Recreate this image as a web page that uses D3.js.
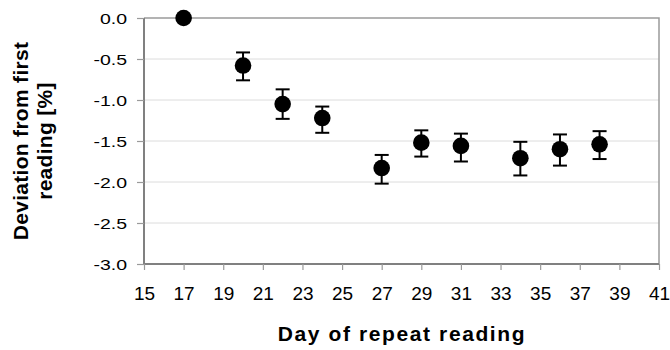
<!DOCTYPE html>
<html><head><meta charset="utf-8">
<script src="https://cdn.jsdelivr.net/npm/d3@7"></script>
<style>body{margin:0;background:#fff}svg{display:block}text{font-family:"Liberation Sans",Arial,sans-serif}</style>
</head><body>
<svg id="c" width="670" height="350"></svg>
<script>
const days = [17, 20, 22, 24, 27, 29, 31, 34, 36, 38];
const deviation = [0.0, -0.58, -1.05, -1.22, -1.83, -1.52, -1.56, -1.71, -1.60, -1.54];
const errUpper = [0.0, -0.42, -0.87, -1.08, -1.67, -1.37, -1.41, -1.51, -1.42, -1.38];
const errLower = [0.0, -0.76, -1.23, -1.40, -2.02, -1.69, -1.75, -1.92, -1.80, -1.72];
const xTicks = [15, 17, 19, 21, 23, 25, 27, 29, 31, 33, 35, 37, 39, 41];
const yTicks = [0.0, -0.5, -1.0, -1.5, -2.0, -2.5, -3.0];
const xTitle = "Day of repeat reading";
const yTitle = ["Deviation from first", "reading [%]"];

const svg = d3.select("#c");
const L = 144, R = 659, T = 18, B = 264;
const x = d3.scaleLinear().domain([15, 41]).range([L, R]);
const y = d3.scaleLinear().domain([-3, 0]).range([B, T]);

// gridlines
svg.append("g").selectAll("line").data(yTicks.filter(v => v !== 0 && v !== -3)).join("line")
  .attr("x1", L).attr("x2", R).attr("y1", d => y(d)).attr("y2", d => y(d))
  .attr("stroke", "#dcdcdc").attr("stroke-width", 1);

// frame top/right
svg.append("path").attr("d", `M${L},${T}H${R}V${B}`).attr("fill", "none")
  .attr("stroke", "#9a9a9a").attr("stroke-width", 1.5);

// axes
const fmtY = d => d.toFixed(1);
const yAxis = d3.axisLeft(y).tickValues(yTicks).tickFormat(fmtY).tickSize(7).tickPadding(10);
const gy = svg.append("g").attr("transform", `translate(${L},0)`).call(yAxis);
const xAxis = d3.axisBottom(x).tickValues(xTicks).tickFormat(d => String(d)).tickSize(6).tickPadding(17);
const gx = svg.append("g").attr("transform", `translate(0,${B})`).call(xAxis);
[gx, gy].forEach(g => {
  g.select(".domain").attr("stroke", "#808080").attr("stroke-width", 2);
  g.selectAll(".tick line").attr("stroke", "#9a9a9a").attr("stroke-width", 1.2);
  g.selectAll(".tick text").attr("font-size", 19).attr("fill", "#000")
    .attr("font-family", '"Liberation Sans",Arial,sans-serif');
});
gy.select(".domain").attr("d", `M0,${T}V${B}`);
gx.select(".domain").attr("d", `M${L},0H${R}`);
gy.selectAll(".tick text").attr("font-size", 19.5).attr("dy", "0.36em").attr("transform", "scale(1,0.74)");

// error bars
const eb = svg.append("g").attr("stroke", "#000").attr("stroke-width", 2);
days.forEach((d, i) => {
  if (errUpper[i] === errLower[i]) return;
  const cx = x(d);
  eb.append("line").attr("x1", cx).attr("x2", cx).attr("y1", y(errUpper[i])).attr("y2", y(errLower[i]));
  eb.append("line").attr("x1", cx - 7).attr("x2", cx + 7).attr("y1", y(errUpper[i])).attr("y2", y(errUpper[i]));
  eb.append("line").attr("x1", cx - 7).attr("x2", cx + 7).attr("y1", y(errLower[i])).attr("y2", y(errLower[i]));
});

// points
svg.append("g").selectAll("circle").data(days).join("circle")
  .attr("cx", d => x(d)).attr("cy", (d, i) => y(deviation[i])).attr("r", 8.3).attr("fill", "#000");

// titles
svg.append("text").attr("x", 402).attr("y", 341).attr("text-anchor", "middle")
  .attr("font-size", 21).attr("font-weight", "bold").attr("letter-spacing", 1.6).text(xTitle);
const yt = svg.append("text").attr("transform", "translate(28,141) rotate(-90)")
  .attr("text-anchor", "middle").attr("font-size", 21).attr("font-weight", "bold").attr("letter-spacing", 0.3);
yt.append("tspan").attr("x", 0).attr("y", 0).text(yTitle[0]);
yt.append("tspan").attr("x", 0).attr("y", 24).text(yTitle[1]);
</script>
</body></html>
